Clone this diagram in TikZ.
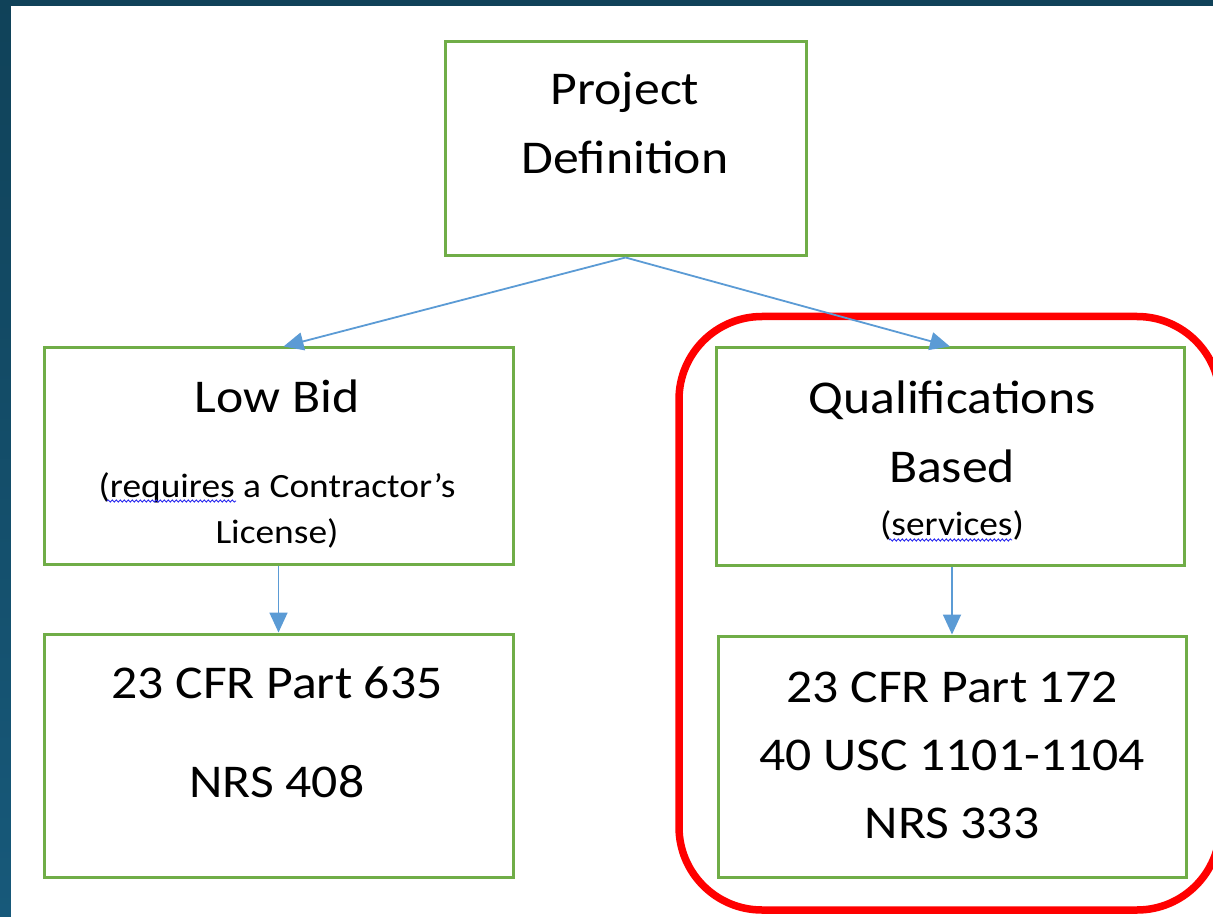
\documentclass[tikz,border=0pt]{standalone}
\usepackage{fontspec}
\setmainfont{Carlito}[FakeStretch=1.1]
\usetikzlibrary{arrows.meta,decorations.pathmorphing,calc}
\definecolor{slide}{HTML}{104259}
\definecolor{slidelow}{HTML}{17597A}
\definecolor{boxgreen}{HTML}{70AD47}
\definecolor{arrowblue}{HTML}{5B9BD5}
\definecolor{spellblue}{HTML}{2A2AF0}
\begin{document}
\begin{tikzpicture}[x=1pt,y=-1pt,
  box/.style={draw=boxgreen,line width=3pt,fill=white,rectangle,inner sep=0pt},
  big/.style={anchor=base,inner sep=0pt,font=\fontsize{47}{56}\selectfont},
  small/.style={anchor=base,inner sep=0pt,font=\fontsize{34}{40}\selectfont},
  flow/.style={draw=arrowblue,line width=1.8pt,-{Triangle[length=20pt,width=18pt]}},
  wavy/.style={draw=spellblue,line width=0.9pt,decorate,decoration={snake,segment length=4pt,amplitude=1.1pt}},
  focus/.style={draw=red,line width=7.5pt,rounded corners=83pt}]
\useasboundingbox (0,0) rectangle (1213,917);
\clip (0,0) rectangle (1213,917);
% slide background with a white content panel
\shade[top color=slide,bottom color=slidelow] (0,0) rectangle (1213,917);
\fill[white] (11,6) rectangle (1213,917);

% boxes
\node[box,minimum width=361pt,minimum height=214pt] (pd) at (625.5,149) {};
\node[box,minimum width=469pt,minimum height=216pt] (lb) at (278.5,456) {};
\node[box,minimum width=468pt,minimum height=217pt] (qb) at (950,456.5) {};
\node[box,minimum width=469pt,minimum height=243pt] (lr) at (278.5,755.5) {};
\node[box,minimum width=468pt,minimum height=241pt] (qr) at (952,756.5) {};

% highlight around the qualifications branch
\draw[focus] (679,316.5) rectangle (1220,910);

% box texts
\node[big] (pd1) at (625,105) {Project};
\node[big] (pd2) at (625,174) {Definition};
\node[big] (lb1) at (277,412) {Low Bid};
\node[small] (lb2) at (277,497) {(requires a Contractor’s};
\node[small] (lb3) at (277,543) {License)};
\node[big] (qb1) at (952,413) {Qualifications};
\node[big] (qb2) at (952,482) {Based};
\node[small] (qb3) at (952,535) {(services)};
\node[big] (lr1) at (277,698) {23 CFR Part 635};
\node[big] (lr2) at (277,797) {NRS 408};
\node[big] (qr1) at (952,702) {23 CFR Part 172};
\node[big] (qr2) at (952,770) {40 USC 1101-1104};
\node[big] (qr3) at (952,838) {NRS 333};

% spelling marks
\draw[wavy] (107,501) -- (236,501);
\draw[wavy] (889,540) -- (1012,540);

% connectors
\coordinate (lbin) at ($(lb.north)+(5,0)$);
\draw[flow] (pd.south) -- (lbin);
\draw[flow] (pd.south) -- (qb.north);
\draw[flow] (lb.south) -- (lr.north);
\draw[flow] (qb.south -| qr.north) -- (qr.north);
\end{tikzpicture}
\end{document}
